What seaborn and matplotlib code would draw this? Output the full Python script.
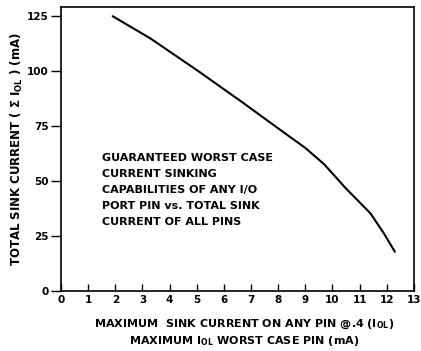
import numpy as np
import pandas as pd
import seaborn as sns
import matplotlib.pyplot as plt

# curve
max_pin_current = [1.9, 3.3, 5.1, 6.7, 8.0, 9.0, 9.7, 10.5, 11.4, 11.9, 12.3]
total_sink_current = [125, 114.8, 99.6, 85.6, 73.9, 65.0, 57.5, 46.5, 35.2, 26.0, 17.7]
x_ticks = list(range(0, 14))
y_ticks = [0, 25, 50, 75, 100, 125]
note_lines = ["GUARANTEED WORST CASE", "CURRENT SINKING",
              "CAPABILITIES OF ANY I/O", "PORT PIN vs. TOTAL SINK",
              "CURRENT OF ALL PINS"]

sns.set_style("ticks")
plt.rcParams['font.family'] = ['DejaVu Sans']
plt.rcParams['font.weight'] = 'bold'
plt.rcParams['text.color'] = 'black'
plt.rcParams['axes.labelcolor'] = 'black'
plt.rcParams['mathtext.fontset'] = 'custom'
plt.rcParams['mathtext.rm'] = 'DejaVu Sans:bold'
plt.rcParams['mathtext.bf'] = 'DejaVu Sans:bold'
plt.rcParams['mathtext.it'] = 'DejaVu Sans:bold'

df = pd.DataFrame({'pin': max_pin_current, 'total': total_sink_current})

fig = plt.figure(figsize=(4.21, 3.51), dpi=100)
ax = fig.add_axes([0.145, 0.172, 0.838, 0.807])
sns.lineplot(data=df, x='pin', y='total', color='black', linewidth=1.5, ax=ax)

ax.set_xlim(0, 13)
ax.set_ylim(0, 129)
ax.set_xticks(x_ticks)
ax.set_yticks(y_ticks)
ax.tick_params(axis='x', direction='in', length=5, width=1, labelsize=7.5, pad=3, colors='black')
ax.tick_params(axis='y', direction='out', length=7, width=1, labelsize=7.5, pad=2, colors='black')
for s in ax.spines.values():
    s.set_linewidth(1.2)
    s.set_color('black')

ax.set_xlabel("MAXIMUM  SINK CURRENT ON ANY PIN @.4 (I$_{\\mathrm{OL}}$)\n"
              "MAXIMUM I$_{\\mathrm{OL}}$ WORST CASE PIN (mA)",
              fontsize=8, fontweight='bold', linespacing=1.3)
ax.xaxis.set_label_coords(0.52, -0.095, transform=ax.transAxes)
ax.xaxis.label.set_va('top')
ax.set_ylabel("TOTAL SINK CURRENT ( \u03a3 I$_{\\mathrm{OL}}$ ) (mA)",
              fontsize=8.5, fontweight='bold')
ax.yaxis.set_label_coords(-0.125, 0.5, transform=ax.transAxes)
ax.yaxis.label.set_va('center')

ax.text(1.5, 62.5, "\n".join(note_lines), fontsize=8, fontweight='bold',
        va='top', ha='left', linespacing=1.75)

plt.savefig('out.png', dpi=100)
